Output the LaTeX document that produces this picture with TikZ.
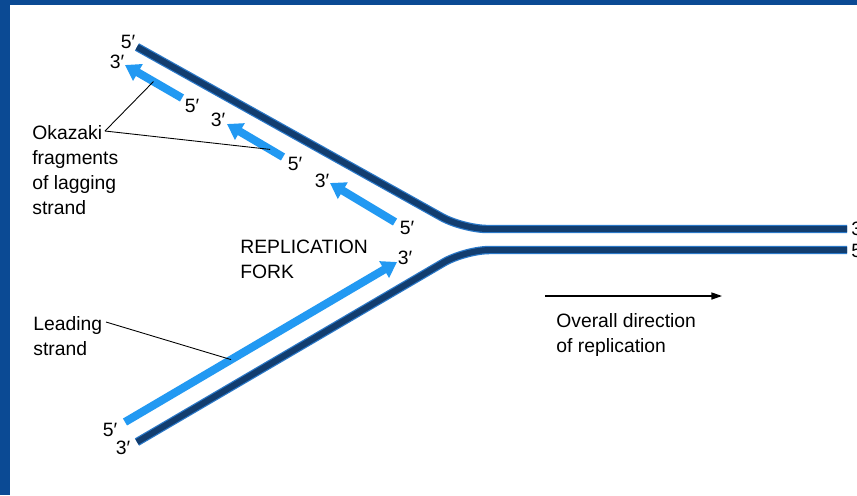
\documentclass[tikz,border=0pt]{standalone}
\usepackage{fontspec}
\setmainfont{Liberation Sans}
\usetikzlibrary{arrows.meta}

\definecolor{frameblue}{HTML}{0B4A94}
\definecolor{template}{HTML}{123D6F}
\definecolor{templateedge}{HTML}{2A78C8}
\definecolor{newdna}{HTML}{2299F2}

\tikzset{
	oldstrand/.style={line width=4.8pt, draw=templateedge, rounded corners=14pt,
		postaction={draw=template, line width=3.4pt}},
	newstrand/.style={line width=4.6pt, draw=newdna},
	fragment/.style={newstrand, -{Triangle[length=8.5pt,width=10.5pt]}},
	pointer/.style={draw, line width=0.5pt},
	lbl/.style={font=\fontsize{11}{14.2}\selectfont, inner sep=0pt, align=left},
	tag/.style={lbl, anchor=center}
}

\begin{document}
\begin{tikzpicture}[x=0.02cm, y=-0.02cm]
	\useasboundingbox (0,0) rectangle (857,495);
	\fill[frameblue] (0,0) rectangle (857,495);
	\fill[white] (10,5) rectangle (857,495);

	% parental strands
	\coordinate (T0) at (137,47);
	\coordinate (T1) at (463,229);
	\coordinate (T2) at (847,229);
	\coordinate (B0) at (137,442);
	\coordinate (B1) at (465,250);
	\coordinate (B2) at (847,250);
	\draw[oldstrand] (T0) -- (T1) -- (T2);
	\draw[oldstrand] (B0) -- (B1) -- (B2);

	% leading strand
	\coordinate (L0) at (125,422);
	\coordinate (L1) at (397,262);
	\draw[fragment] (L0) -- (L1) coordinate[pos=0.39] (Lmid);

	% okazaki fragments
	\coordinate (F1a) at (182,98);
	\coordinate (F1b) at (125,65);
	\coordinate (F2a) at (283,157);
	\coordinate (F2b) at (227,124);
	\coordinate (F3a) at (395,222);
	\coordinate (F3b) at (330,183);
	\draw[fragment] (F1a) -- (F1b) coordinate[pos=0.5] (F1mid);
	\draw[fragment] (F2a) -- (F2b) coordinate[pos=0.23] (F2mid);
	\draw[fragment] (F3a) -- (F3b);

	% ends
	\node[tag] (t5) at (128,42) {5′};
	\node[tag] (t3) at (117,62) {3′};
	\node[tag] (f15) at (192,106) {5′};
	\node[tag] (f23) at (218,120) {3′};
	\node[tag] (f25) at (295,164) {5′};
	\node[tag] (f33) at (322,181) {3′};
	\node[tag] (f35) at (407,228) {5′};
	\node[tag] (l3) at (405,258) {3′};
	\node[tag] (l5) at (110,430) {5′};
	\node[tag] (b3) at (123,448) {3′};
	\node[lbl, anchor=west] (r3) at (851,229) {3′};
	\node[lbl, anchor=west] (r5) at (851,251) {5′};

	% labels
	\node[lbl, anchor=west] (okazaki) at (32,170) {Okazaki\\fragments\\of lagging\\strand};
	\coordinate (okz) at (105,131);
	\draw[pointer] (okz) -- (F1mid);
	\draw[pointer] (okz) -- (F2mid);

	\node[lbl, anchor=west] (fork) at (240,259) {REPLICATION\\FORK};

	\node[lbl, anchor=west] (leading) at (33,336) {Leading\\strand};
	\coordinate (lead) at (106,322);
	\draw[pointer] (lead) -- (Lmid);

	\coordinate (D0) at (545,296);
	\coordinate (D1) at (722,296);
	\draw[line width=0.7pt, -{Triangle[length=6pt,width=4pt]}] (D0) -- (D1);
	\node[lbl, anchor=west] (direction) at (556,335) {Overall direction\\of replication};
\end{tikzpicture}
\end{document}
